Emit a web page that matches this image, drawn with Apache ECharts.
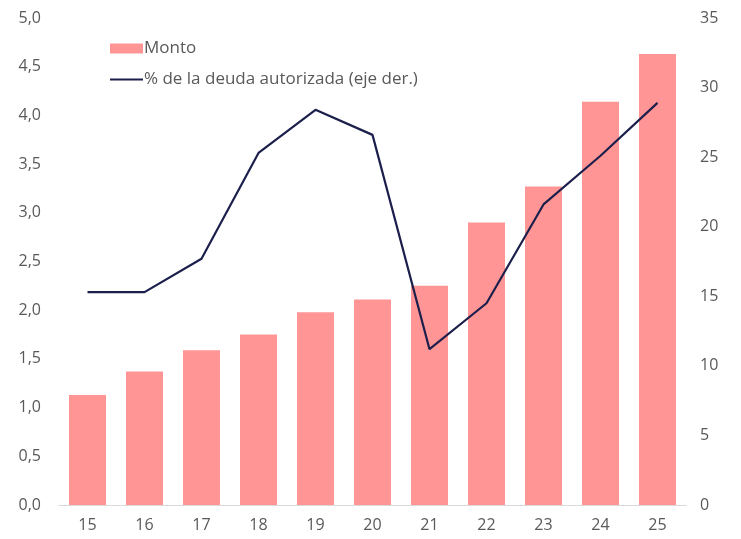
<!DOCTYPE html>
<html>
<head>
<meta charset="utf-8">
<script src="https://cdn.jsdelivr.net/npm/echarts@6/dist/echarts.min.js"></script>
<style>
  html, body { margin: 0; padding: 0; background: #fff; }
  #chart { width: 741px; height: 539px; }
</style>
</head>
<body>
<div id="chart"></div>
<script>
var years = ['15', '16', '17', '18', '19', '20', '21', '22', '23', '24', '25'];
var monto = [1.13, 1.37, 1.59, 1.75, 1.98, 2.11, 2.25, 2.90, 3.27, 4.14, 4.63];
var pctDeuda = [15.3, 15.3, 17.7, 25.3, 28.4, 26.6, 11.2, 14.5, 21.6, 25.1, 28.9];

var chart = echarts.init(document.getElementById('chart'));
var labelStyle = { color: '#595959', fontSize: 16, fontFamily: 'Open Sans' };

var option = {
    animation: false,
    grid: { left: 59, right: 55, top: 18, bottom: 34 },
    legend: {
        orient: 'vertical',
        left: 104,
        top: 35,
        itemGap: 14,
        itemWidth: 33,
        itemHeight: 10,
        textStyle: { color: '#595959', fontSize: 17, fontFamily: 'Open Sans', padding: [0, 0, 0, -4] },
        data: [
            { name: 'Monto', icon: 'rect' },
            { name: '% de la deuda autorizada (eje der.)', itemStyle: { opacity: 0 } }
        ]
    },
    xAxis: {
        type: 'category',
        data: years,
        axisLine: { lineStyle: { color: '#d9d9d9' } },
        axisTick: { show: false },
        axisLabel: Object.assign({ margin: 12 }, labelStyle)
    },
    yAxis: [{
        type: 'value',
        min: 0,
        max: 5,
        interval: 0.5,
        splitLine: { show: false },
        axisLabel: Object.assign({
            margin: 18,
            formatter: function (v) { return v.toFixed(1).replace('.', ','); }
        }, labelStyle)
    }, {
        type: 'value',
        min: 0,
        max: 35,
        interval: 5,
        splitLine: { show: false },
        axisLabel: Object.assign({ margin: 14 }, labelStyle)
    }],
    series: [{
        name: 'Monto',
        type: 'bar',
        data: monto,
        barWidth: 37,
        itemStyle: { color: '#ff9595' }
    }, {
        name: '% de la deuda autorizada (eje der.)',
        type: 'line',
        yAxisIndex: 1,
        data: pctDeuda,
        symbol: 'none',
        lineStyle: { color: '#1c1f4b', width: 2.2 },
        itemStyle: { color: '#1c1f4b' }
    }]
};

chart.setOption(option);
</script>
</body>
</html>
